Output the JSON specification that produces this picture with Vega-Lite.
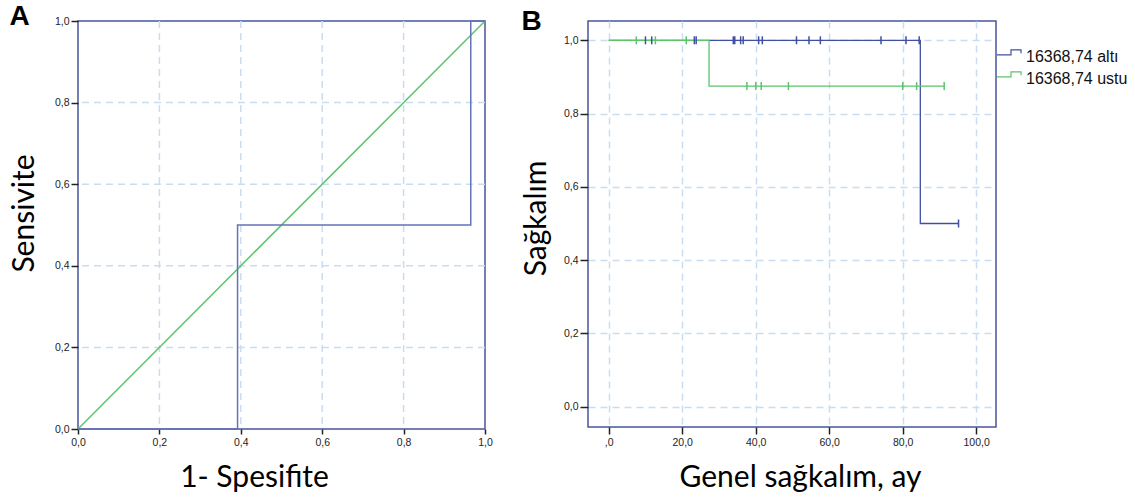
{
  "$schema": "https://vega.github.io/schema/vega-lite/v6.json",
  "background": "white",
  "padding": {"left": 8, "top": 2, "right": 5, "bottom": 5},
  "datasets": {
    "roc": [
      {"fpr": 0, "tpr": 0},
      {"fpr": 0.392, "tpr": 0.5},
      {"fpr": 0.965, "tpr": 1},
      {"fpr": 1, "tpr": 1}
    ],
    "ref": [
      {"fpr": 0, "tpr": 0},
      {"fpr": 1, "tpr": 1}
    ],
    "gridA": [
      {"v": 0.2}, {"v": 0.4}, {"v": 0.6}, {"v": 0.8}
    ],
    "km": [
      {"grup": "16368,74 altı", "ay": 0, "sagkalim": 1},
      {"grup": "16368,74 altı", "ay": 84.8, "sagkalim": 0.5},
      {"grup": "16368,74 altı", "ay": 95.2, "sagkalim": 0.5},
      {"grup": "16368,74 ustu", "ay": 0, "sagkalim": 1},
      {"grup": "16368,74 ustu", "ay": 27.3, "sagkalim": 0.875},
      {"grup": "16368,74 ustu", "ay": 91.3, "sagkalim": 0.875}
    ],
    "censor": [
      {"grup": "16368,74 altı", "ay": 10.0, "sagkalim": 1},
      {"grup": "16368,74 altı", "ay": 11.7, "sagkalim": 1},
      {"grup": "16368,74 altı", "ay": 23.3, "sagkalim": 1},
      {"grup": "16368,74 altı", "ay": 23.8, "sagkalim": 1},
      {"grup": "16368,74 altı", "ay": 33.9, "sagkalim": 1},
      {"grup": "16368,74 altı", "ay": 34.3, "sagkalim": 1},
      {"grup": "16368,74 altı", "ay": 35.9, "sagkalim": 1},
      {"grup": "16368,74 altı", "ay": 36.6, "sagkalim": 1},
      {"grup": "16368,74 altı", "ay": 40.8, "sagkalim": 1},
      {"grup": "16368,74 altı", "ay": 41.8, "sagkalim": 1},
      {"grup": "16368,74 altı", "ay": 51.1, "sagkalim": 1},
      {"grup": "16368,74 altı", "ay": 54.5, "sagkalim": 1},
      {"grup": "16368,74 altı", "ay": 57.6, "sagkalim": 1},
      {"grup": "16368,74 altı", "ay": 74.1, "sagkalim": 1},
      {"grup": "16368,74 altı", "ay": 80.9, "sagkalim": 1},
      {"grup": "16368,74 altı", "ay": 84.5, "sagkalim": 1},
      {"grup": "16368,74 altı", "ay": 95.2, "sagkalim": 0.5},
      {"grup": "16368,74 ustu", "ay": 7.5, "sagkalim": 1},
      {"grup": "16368,74 ustu", "ay": 12.7, "sagkalim": 1},
      {"grup": "16368,74 ustu", "ay": 21.1, "sagkalim": 1},
      {"grup": "16368,74 ustu", "ay": 37.6, "sagkalim": 0.875},
      {"grup": "16368,74 ustu", "ay": 40.0, "sagkalim": 0.875},
      {"grup": "16368,74 ustu", "ay": 41.5, "sagkalim": 0.875},
      {"grup": "16368,74 ustu", "ay": 48.9, "sagkalim": 0.875},
      {"grup": "16368,74 ustu", "ay": 80.0, "sagkalim": 0.875},
      {"grup": "16368,74 ustu", "ay": 83.8, "sagkalim": 0.875},
      {"grup": "16368,74 ustu", "ay": 91.3, "sagkalim": 0.875}
    ]
  },
  "spacing": 26,
  "resolve": {"legend": {"color": "independent"}, "scale": {"color": "independent"}},
  "hconcat": [
    {
      "width": 407,
      "height": 408,
      "title": {"text": "A", "anchor": "start", "frame": "bounds", "fontSize": 28, "fontWeight": "bold", "font": "Liberation Sans", "color": "#000", "offset": -15},
      "layer": [
        {
          "data": {"name": "gridA"},
          "mark": {"type": "rule", "color": "#c9ddf2", "strokeWidth": 1.5, "strokeDash": [7, 5]},
          "encoding": {
            "x": {"field": "v", "type": "quantitative", "scale": {"domain": [0, 1], "nice": false},
              "axis": {"values": [0, 0.2, 0.4, 0.6, 0.8, 1], "grid": false, "labelExpr": "replace(format(datum.value, '.1f'), '.', ',')", "tickSize": 5, "labelPadding": 3, "title": "1- Spesifite", "titlePadding": 15, "titleX": 176}}
          }
        },
        {
          "data": {"name": "gridA"},
          "mark": {"type": "rule", "color": "#c9ddf2", "strokeWidth": 1.5, "strokeDash": [7, 5]},
          "encoding": {
            "y": {"field": "v", "type": "quantitative", "scale": {"domain": [0, 1], "nice": false},
              "axis": {"values": [0, 0.2, 0.4, 0.6, 0.8, 1], "grid": false, "labelExpr": "replace(format(datum.value, '.1f'), '.', ',')", "tickSize": 7, "labelPadding": 2, "title": "Sensivite", "titlePadding": 15, "titleY": 192}}
          }
        },
        {
          "data": {"name": "ref"},
          "mark": {"type": "line", "color": "#5cc46c", "strokeWidth": 1.5},
          "encoding": {
            "x": {"field": "fpr", "type": "quantitative"},
            "y": {"field": "tpr", "type": "quantitative"}
          }
        },
        {
          "data": {"name": "roc"},
          "mark": {"type": "line", "color": "#6472b9", "strokeWidth": 1.5, "interpolate": "step-after"},
          "encoding": {
            "x": {"field": "fpr", "type": "quantitative"},
            "y": {"field": "tpr", "type": "quantitative"}
          }
        }
      ]
    },
    {
      "width": 408,
      "height": 406,
      "title": {"text": "B", "anchor": "start", "frame": "bounds", "fontSize": 28, "fontWeight": "bold", "font": "Liberation Sans", "color": "#000", "offset": -15},
      "layer": [
        {
          "data": {"name": "km"},
          "mark": {"type": "line", "strokeWidth": 1.3, "interpolate": "step-after"},
          "encoding": {
            "x": {"field": "ay", "type": "quantitative", "scale": {"domain": [-5.64, 105.4], "nice": false, "zero": false},
              "axis": {"values": [0, 20, 40, 60, 80, 100], "grid": true, "labelExpr": "datum.value == 0 ? ',0' : replace(format(datum.value, '.1f'), '.', ',')", "tickSize": 7, "labelPadding": 3, "title": "Genel sağkalım, ay", "titlePadding": 15, "titleX": 212}},
            "y": {"field": "sagkalim", "type": "quantitative", "scale": {"domain": [-0.0554, 1.0527], "nice": false, "zero": false},
              "axis": {"values": [0, 0.2, 0.4, 0.6, 0.8, 1], "grid": true, "labelExpr": "replace(format(datum.value, '.1f'), '.', ',')", "tickSize": 8, "labelPadding": 2, "title": "Sağkalım", "titlePadding": 12, "titleY": 197}},
            "color": {"field": "grup", "type": "nominal",
              "scale": {"domain": ["16368,74 altı", "16368,74 ustu"], "range": ["#3f4fa3", "#5cc46c"]},
              "legend": {"title": null, "orient": "none", "legendX": 413, "legendY": 28, "symbolType": "M-1.714,-0.3H0.286V-1.01H1.714V-0.54", "symbolSize": 196, "symbolStrokeWidth": 1.2, "symbolFillColor": "transparent", "labelFont": "Liberation Sans", "labelFontSize": 16, "labelColor": "#111", "labelOffset": 9, "rowPadding": 4, "padding": 0}}
          }
        },
        {
          "data": {"name": "censor"},
          "mark": {"type": "point", "shape": "M0,-1V1", "filled": false, "size": 64, "strokeWidth": 1.5, "opacity": 1},
          "encoding": {
            "x": {"field": "ay", "type": "quantitative"},
            "y": {"field": "sagkalim", "type": "quantitative"},
            "color": {"field": "grup", "type": "nominal"}
          }
        }
      ]
    }
  ],
  "config": {
    "view": {"stroke": "#4a5699", "strokeWidth": 1.5},
    "axis": {
      "labelFont": "Liberation Sans", "labelFontSize": 10.5, "labelColor": "#222",
      "tickColor": "#222", "tickWidth": 1.5, "domain": false,
      "gridColor": "#c9ddf2", "gridDash": [7, 5], "gridWidth": 1.5,
      "titleFont": "Lato", "titleFontSize": 30, "titleFontWeight": "normal", "titleColor": "#000",
      "labelFlush": false, "labelOverlap": false
    }
  }
}
